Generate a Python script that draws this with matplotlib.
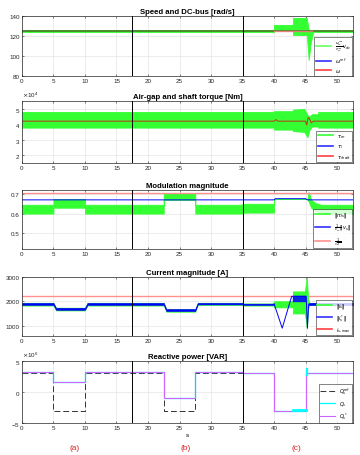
import matplotlib
matplotlib.use("Agg")
import matplotlib.pyplot as plt
from matplotlib.ticker import ScalarFormatter

plt.rcParams['font.family'] = ['Liberation Sans', 'DejaVu Sans']
plt.rcParams['font.size'] = 4.5
plt.rcParams['mathtext.fontset'] = 'dejavusans'

# --- data ---
xmax = 52.5
vlines = [17.5, 35]

# speed / dc bus: green band envelope
sp_t = [0, 40, 40, 43, 43, 44.2, 44.3, 45.2, 45.5, 45.8, 46.2, 52.5]
sp_lo = [124, 124, 126, 126, 121, 121, 121, 121, 96, 112, 124, 124]
sp_hi = [126, 126, 131, 131, 138, 138, 138, 138, 126, 126, 126, 126]
sp_ref = 125
sp_w = 125

# torque (Nm) envelope of tau_m and tau_shaft line
tq_t = [0, 40, 40, 43, 43, 44.8, 45.3, 45.6, 46, 47, 47, 52.5]
tq_lo = [37.8e3, 37.8e3, 36.5e3, 36.5e3, 35.5e3, 35e3, 31.5e3, 36e3, 38.5e3, 38.5e3, 37.8e3, 37.8e3]
tq_hi = [48e3, 48e3, 48.5e3, 48.5e3, 49.5e3, 50e3, 46e3, 45e3, 46.5e3, 46.5e3, 48e3, 48e3]
sh_t = [0, 40, 40.3, 40.6, 45, 45.2, 45.4, 45.6, 45.9, 46.3, 52.5]
sh_v = [42e3, 42e3, 43e3, 42e3, 42e3, 39.5e3, 44.3e3, 43.8e3, 41e3, 42e3, 42e3]

# modulation magnitude
md_t = [0, 5, 5, 10, 10, 22.5, 22.5, 27.5, 27.5, 35, 35, 40, 40, 45.3, 45.5, 45.9, 46.5, 47.5, 52.5]
md_lo = [0.60, 0.60, 0.63, 0.63, 0.60, 0.60, 0.67, 0.67, 0.60, 0.60, 0.605, 0.605, 0.675, 0.675, 0.66, 0.63, 0.615, 0.60, 0.60]
md_hi = [0.645, 0.645, 0.675, 0.675, 0.645, 0.645, 0.705, 0.705, 0.645, 0.645, 0.65, 0.65, 0.675, 0.675, 0.71, 0.67, 0.655, 0.645, 0.645]
mv_t = [0, 40, 40.2, 45, 45.3, 45.5, 52.5]
mv_v = [0.67, 0.67, 0.676, 0.676, 0.67, 0.67, 0.67]
m_lim = 0.7071

# current magnitude: blue band, green band, blue transient line
cb_t = [0, 5, 5.4, 10, 10.4, 22.5, 22.9, 27.5, 27.9, 35, 35, 40]
cb_lo = [1850, 1850, 1650, 1650, 1850, 1850, 1600, 1600, 1870, 1870, 1850, 1850]
cb_hi = [1930, 1930, 1730, 1730, 1930, 1930, 1680, 1680, 1930, 1930, 1900, 1900]
cg_t = [40, 43, 43, 44.9, 45.2, 45.4, 45.6, 52.5]
cg_lo = [1750, 1750, 1500, 1500, 900, 1700, 1850, 1850]
cg_hi = [2000, 2000, 2400, 2400, 3000, 2100, 1930, 1930]
cl_t = [40, 41.3, 42.8, 43.0, 45.1, 45.3, 45.5, 52.5]
cl_v = [1900, 900, 2200, 2200, 2200, 900, 1880, 1880]
cz_t = [43.0, 45.1]
cz_lo = [1950, 1950]
cz_hi = [2200, 2200]
cb2_t = [45.5, 52.5]
cb2_lo = [1850, 1850]
cb2_hi = [1930, 1930]
i_max = 2200

# reactive power
q_t = [0, 5, 10, 22.5, 27.5, 35, 40, 45, 52.5]
q_ref = [3e6, -3e6, 3e6, -3e6, 3e6, 3e6, -3e6, 3e6, 3e6]
q_s = [3.1e6, 1.5e6, 3.1e6, -1e6, 3.1e6, 3e6, -3e6, 3e6, 3e6]

titles = ["Speed and DC-bus [rad/s]", "Air-gap and shaft torque [Nm]",
          "Modulation magnitude", "Current magnitude [A]", "Reactive power [VAR]"]
green = (0.2, 1.0, 0.2)

fig = plt.figure(figsize=(3.6, 4.56), dpi=100)
L, W = 0.061, 0.919
boxes = [(0.831, 0.132), (0.641, 0.135), (0.452, 0.129), (0.262, 0.129), (0.070, 0.137)]
axs = [fig.add_axes([L, b, W, h]) for b, h in boxes]


def style(ax, title):
    ax.set_xlim(0, xmax)
    ax.set_xticks(range(0, 55, 5))
    ax.grid(True, color='#e4e4e4', lw=0.5)
    ax.set_axisbelow(True)
    for s in ax.spines.values():
        s.set_color('#262626')
        s.set_linewidth(0.5)
    ax.tick_params(length=1.5, width=0.4, pad=1.5, labelsize=4.5, direction='in',
                   top=True, right=True, colors='#262626')
    ax.set_title(title, fontsize=5.6, fontweight='bold', pad=2)
    for v in vlines:
        ax.axvline(v, color='k', lw=0.7, zorder=5)


def leg(ax):
    lg = ax.legend(loc='lower right', fontsize=3.6, frameon=True, fancybox=False,
                   borderpad=0.3, handlelength=3, labelspacing=0.5, borderaxespad=0.1)
    lg.get_frame().set_edgecolor('#262626')
    lg.get_frame().set_linewidth(0.5)
    lg.set_zorder(10)


# panel 1
ax = axs[0]
ax.fill_between(sp_t, sp_lo, sp_hi, color=green, lw=0.6)
ax.plot([], [], color='#66ff66', lw=1.2, label=r'$\frac{\omega^{ref}_m}{v^{ref}_{dc}}v_{dc}$')
ax.plot([0, 40, 46, xmax], [sp_ref] * 4, color='#4a7a2a', lw=1.2)
ax.plot([40, 46], [sp_w, sp_w], color='#ff8080', lw=1.0, alpha=0.8)
ax.plot([], [], color='#3030ff', lw=1.2, label=r'$\omega^{ref}$')
ax.plot([], [], color='#ff4040', lw=1.2, label=r'$\omega$')
ax.set_ylim(80, 140)
ax.set_yticks([80, 100, 120, 140])
style(ax, titles[0])
leg(ax)

# panel 2
ax = axs[1]
ax.fill_between(tq_t, tq_lo, tq_hi, color=green, lw=0.6)
ax.plot([], [], color='#33ff33', lw=1.2, label=r'$\tau_m$')
ax.plot([], [], color='#3030ff', lw=1.2, label=r'$\tau_l$')
ax.plot(sh_t, sh_v, color='#c0301a', lw=0.7)
ax.plot([], [], color='#ff4040', lw=1.2, label=r'$\tau_{shaft}$')
ax.set_ylim(1.5e4, 5.5e4)
ax.set_yticks([2e4, 3e4, 4e4, 5e4])
fmt = ScalarFormatter(useMathText=True)
fmt.set_powerlimits((0, 0))
ax.yaxis.set_major_formatter(fmt)
ax.yaxis.get_offset_text().set_fontsize(4.5)
style(ax, titles[1])
leg(ax)

# panel 3
ax = axs[2]
ax.fill_between(md_t, md_lo, md_hi, color=green, lw=0.6)
ax.axhline(m_lim, color='#ff9090', lw=1.0)
ax.plot(mv_t, mv_v, color='b', lw=0.7)
ax.plot([], [], color='#33ff33', lw=1.2, label=r'$\|m_s\|$')
ax.plot([], [], color='#3030ff', lw=1.2, label=r'$\frac{1}{v_{dc}}\|v_s\|$')
ax.plot([], [], color='#ff9090', lw=1.2, label=r'$\frac{1}{\sqrt{2}}$')
ax.set_ylim(0.42, 0.72)
ax.set_yticks([0.5, 0.6, 0.7])
style(ax, titles[2])
leg(ax)

# panel 4
ax = axs[3]
ax.axhline(i_max, color='#ff9090', lw=1.0, zorder=1)
ax.fill_between(cg_t, cg_lo, cg_hi, color=green, lw=0.6)
ax.fill_between(cb_t, [v - 30 for v in cb_lo], [v + 10 for v in cb_hi], color=green, lw=0.4)
ax.fill_between(cb_t, cb_lo, cb_hi, color='b', lw=0.4)
ax.fill_between(cb2_t, cb2_lo, cb2_hi, color='b', lw=0.4)
ax.fill_between(cz_t, cz_lo, cz_hi, color='b', lw=0.3, alpha=0.85)
ax.plot(cl_t, cl_v, color='b', lw=0.7)
ax.plot([], [], color='#33ff33', lw=1.2, label=r'$\|i_s\|$')
ax.plot([], [], color='#3030ff', lw=1.2, label=r'$\|i^*_s\|$')
ax.plot([], [], color='#ff4040', lw=1.2, label=r'$i_{s,max}$')
ax.set_ylim(600, 3000)
ax.set_yticks([1000, 2000, 3000])
style(ax, titles[3])
leg(ax)

# panel 5
ax = axs[4]
ax.step(q_t, q_ref, where='post', color='#333333', lw=0.7, ls=(0, (6, 3)), label=r'$Q^{ref}_s$')
ax.step(q_t, q_s, where='post', color='cyan', lw=0.9, label=r'$Q_s$')
ax.step(q_t, q_s, where='post', color='#cc66ff', lw=0.8, label=r'$Q^*_s$')
ax.plot([43, 45], [-2.85e6, -2.85e6], color='cyan', lw=2.0, zorder=3)
ax.plot([45.3, 45.3], [2.7e6, 3.6e6], color='cyan', lw=1.6, zorder=3)
ax.set_ylim(-5e6, 5e6)
ax.set_yticks([-5e6, 0, 5e6])
fmt = ScalarFormatter(useMathText=True)
fmt.set_powerlimits((0, 0))
ax.yaxis.set_major_formatter(fmt)
ax.yaxis.get_offset_text().set_fontsize(4.5)
style(ax, titles[4])
ax.set_xlabel('s', fontsize=4.5, labelpad=1)
leg(ax)

for txt, x in zip(['(a)', '(b)', '(c)'], [75, 186, 296]):
    fig.text(x / 360, 1 - 449 / 456, txt, color='#d62020', fontsize=6, ha='center', va='center')

fig.savefig('out.png', dpi=100)
